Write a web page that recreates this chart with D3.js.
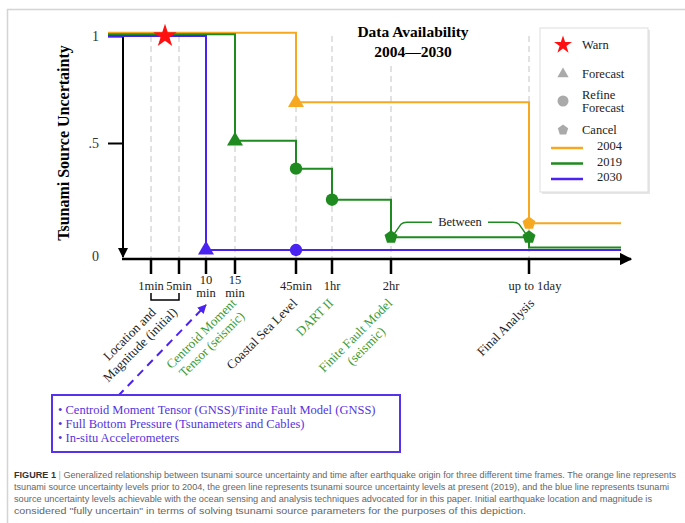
<!DOCTYPE html>
<html>
<head>
<meta charset="utf-8">
<script src="https://cdn.jsdelivr.net/npm/d3@7"></script>
<style>
  body { margin: 0; background: #fff; }
  svg { display: block; }
</style>
</head>
<body>
<svg></svg>
<script>
// time (minutes after origin) of each x tick and its label
const tickTimes = [1, 5, 10, 15, 45, 60, 120, 1440]
const tickLabels = [["1min"], ["5min"], ["10", "min"], ["15", "min"], ["45min"], ["1hr"], ["2hr"], ["up to 1day"]]

// step lines: uncertainty level from time t onward
const orange2004 = [{t: 0, v: 1.015}, {t: 45, v: 0.69}, {t: 1440, v: 0.125}]
const green2019 = [{t: 0, v: 1.008}, {t: 15, v: 0.51}, {t: 45, v: 0.38}, {t: 60, v: 0.235}, {t: 120, v: 0.06}, {t: 1440, v: 0.012}]
const blue2030 = [{t: 0, v: 1.0}, {t: 10, v: 0}]
const endTime = 2880

// markers
const warnPts = [{t: 3, v: 1}]
const forecastPts = [{t: 45, v: 0.69, s: "2004"}, {t: 15, v: 0.51, s: "2019"}, {t: 10, v: 0, s: "2030"}]
const refinePts = [{t: 45, v: 0.38, s: "2019"}, {t: 60, v: 0.235, s: "2019"}, {t: 45, v: 0, s: "2030"}]
const cancelPts = [{t: 1440, v: 0.125, s: "2004"}, {t: 120, v: 0.06, s: "2019"}, {t: 1440, v: 0.06, s: "2019"}]

// data sources under the axis
const sourceLabels = [
  {t: 5, lines: ["Location and", "Magnitude (initial)"], c: "black"},
  {t: 15, lines: ["Centroid Moment", "Tensor (seismic)"], c: "green"},
  {t: 45, lines: ["Coastal Sea Level"], c: "black"},
  {t: 60, lines: ["DART II"], c: "green"},
  {t: 120, lines: ["Finite Fault Model", "(seismic)"], c: "green"},
  {t: 1440, lines: ["Final Analysis"], c: "black"}
]
const futureSources = [
  "• Centroid Moment Tensor (GNSS)/Finite Fault Model (GNSS)",
  "• Full Bottom Pressure (Tsunameters and Cables)",
  "• In-situ Accelerometers"
]
const legendYears = ["2004", "2019", "2030"]
const captionLines = [
  "Generalized relationship between tsunami source uncertainty and time after earthquake origin for three different time frames. The orange line represents",
  "tsunami source uncertainty levels prior to 2004, the green line represents tsunami source uncertainty levels at present (2019), and the blue line represents tsunami",
  "source uncertainty levels achievable with the ocean sensing and analysis techniques advocated for in this paper. Initial earthquake location and magnitude is",
  "considered \"fully uncertain\" in terms of solving tsunami source parameters for the purposes of this depiction."
]

const colors = {"2004": "#f6a821", "2019": "#1f8a1f", "2030": "#4a22f2", green: "#3a9a30", black: "#222"}
const serif = "'Liberation Serif', 'Times New Roman', serif"

const width = 685, height = 523

const svg = d3.select("svg")
  .attr("width", width)
  .attr("height", height)

// frame
svg.append("path")
  .attr("d", `M7.5,${height} V9.5 H${width}`)
  .attr("fill", "none")
  .attr("stroke", "#d4d4d4")
  .attr("stroke-width", 1.5)

const x = d3.scaleLinear()
  .domain([0, 1, 5, 10, 15, 45, 60, 120, 1440, endTime])
  .range([123, 151, 179, 206, 235, 296, 332, 391, 529, 621])

const y = d3.scaleLinear()
  .domain([0, 1])
  .range([250, 36])

const axisY = 259, tickLen = 15

// dashed guides
svg.append("g")
  .selectAll("line")
  .data(tickTimes)
  .join("line")
    .attr("x1", d => x(d)).attr("x2", d => x(d))
    .attr("y1", y(1)).attr("y2", axisY)
    .attr("stroke", "#c4c4c4")
    .attr("stroke-dasharray", "6,4")

// title (white behind it hides the guide)
const title = svg.append("g").attr("font-family", serif).attr("font-weight", "bold").attr("font-size", 15.5).attr("text-anchor", "middle")
title.append("rect").attr("x", 352).attr("y", 18).attr("width", 124).attr("height", 44).attr("fill", "#fff")
title.append("text").attr("x", 413).attr("y", 37).text("Data Availability")
title.append("text").attr("x", 413).attr("y", 57).text("2004\u20142030")

// axes
svg.append("defs").call(defs => {
  defs.append("marker").attr("id", "arr").attr("viewBox", "0 0 10 10").attr("refX", 9).attr("refY", 5)
    .attr("markerWidth", 5).attr("markerHeight", 5).attr("orient", "auto")
    .append("path").attr("d", "M0,0 L10,5 L0,10 z").attr("fill", "black")
  defs.append("marker").attr("id", "barr").attr("viewBox", "0 0 10 10").attr("refX", 9).attr("refY", 5)
    .attr("markerWidth", 4.5).attr("markerHeight", 4.5).attr("orient", "auto")
    .append("path").attr("d", "M0,0 L10,5 L0,10 z").attr("fill", colors["2030"])
})

svg.append("line")
  .attr("x1", x(0)).attr("x2", x(0)).attr("y1", y(1)).attr("y2", axisY - 2)
  .attr("stroke", "black").attr("stroke-width", 2)
  .attr("marker-end", "url(#arr)")

svg.append("line")
  .attr("x1", x(0) - 1).attr("x2", x(endTime) + 10).attr("y1", axisY).attr("y2", axisY)
  .attr("stroke", "black").attr("stroke-width", 2.5)
  .attr("marker-end", "url(#arr)")

const yAxis = d3.axisLeft(y).tickValues([0, 0.5, 1]).tickSize(tickLen).tickFormat(d => d === 0.5 ? ".5" : d3.format("d")(d))
svg.append("g")
  .attr("transform", `translate(${x(0)},0)`)
  .call(yAxis)
  .call(g => g.select(".domain").remove())
  .call(g => g.selectAll(".tick line").attr("stroke-width", 2).attr("stroke", d => d === 0 ? "none" : "black"))
  .call(g => g.selectAll(".tick text").attr("font-family", serif).attr("font-size", 14).attr("fill", "#333")
    .attr("x", -24).attr("dy", d => d === 0 ? "0.75em" : "0.32em"))

svg.append("text")
  .attr("transform", `translate(69,${y(0.5)}) rotate(-90)`)
  .attr("text-anchor", "middle")
  .attr("font-family", serif).attr("font-weight", "bold").attr("font-size", 16)
  .text("Tsunami Source Uncertainty")

// x ticks
const xt = svg.append("g").selectAll("g").data(tickTimes).join("g")
  .attr("transform", d => `translate(${x(d)},${axisY})`)
xt.append("line").attr("y1", 0).attr("y2", tickLen).attr("stroke", "black").attr("stroke-width", 2.5)
xt.append("text")
  .attr("text-anchor", "middle")
  .attr("font-family", serif).attr("font-size", 12.5).attr("fill", "#222")
  .attr("dx", (d, i) => i === 7 ? 6 : 0)
  .selectAll("tspan")
  .data((d, i) => tickLabels[i])
  .join("tspan")
    .attr("x", 0)
    .attr("y", (s, j, n) => n.length > 1 ? 25 + j * 13 : 31)
    .text(s => s)

// bracket under 1min - 5min
const bracketBottom = axisY + 41
svg.append("path")
  .attr("d", `M${x(1)},${axisY + 34} V${bracketBottom} H${x(5)} V${axisY + 34}`)
  .attr("fill", "none").attr("stroke", "black").attr("stroke-width", 1.5)

// step lines
const line = d3.line()
  .x(d => d.t === 0 ? x(0) - tickLen : x(d.t))
  .y(d => y(d.v))
  .curve(d3.curveStepAfter)

const series = [["2004", orange2004], ["2019", green2019], ["2030", blue2030]]
svg.append("g")
  .selectAll("path")
  .data(series)
  .join("path")
    .attr("d", ([k, pts]) => line([...pts, {t: endTime, v: pts[pts.length - 1].v}]))
    .attr("fill", "none")
    .attr("stroke", ([k]) => colors[k])
    .attr("stroke-width", 2)

// "Between" bracket
const bx0 = x(120), bx1 = x(1440), by0 = y(0.06), by1 = y(0.06) - 15
svg.append("path")
  .attr("d", `M${bx0 + 3},${by0 - 3} L${bx0 + 10},${by1 + 2} Q${bx0 + 12},${by1} ${bx0 + 16},${by1} H${(bx0 + bx1) / 2 - 28}
              M${(bx0 + bx1) / 2 + 28},${by1} H${bx1 - 16} Q${bx1 - 12},${by1} ${bx1 - 10},${by1 + 2} L${bx1 - 3},${by0 - 3}`)
  .attr("fill", "none").attr("stroke", colors["2019"]).attr("stroke-width", 1.5)
svg.append("text")
  .attr("x", (bx0 + bx1) / 2).attr("y", by1 + 4)
  .attr("text-anchor", "middle").attr("font-family", serif).attr("font-size", 12.5).attr("fill", "#222")
  .text("Between")

// markers
const pentagon = {
  draw(ctx, size) {
    const r = Math.sqrt(size / 2.378)
    for (let i = 0; i < 5; i++) {
      const a = -Math.PI / 2 + i * 2 * Math.PI / 5
      i ? ctx.lineTo(r * Math.cos(a), r * Math.sin(a)) : ctx.moveTo(r * Math.cos(a), r * Math.sin(a))
    }
    ctx.closePath()
  }
}
const markerSets = [
  [forecastPts, d3.symbolTriangle, 110],
  [refinePts, d3.symbolCircle, 120],
  [cancelPts, pentagon, 110]
]
markerSets.forEach(([pts, type, size]) => {
  svg.append("g").selectAll("path").data(pts).join("path")
    .attr("transform", d => `translate(${x(d.t)},${y(d.v)})`)
    .attr("d", d3.symbol().type(type).size(size))
    .attr("fill", d => colors[d.s])
})
svg.append("g").selectAll("path").data(warnPts).join("path")
  .attr("transform", d => `translate(${x(d.t)},${y(d.v)})`)
  .attr("d", d3.symbol().type(d3.symbolStar).size(170))
  .attr("fill", "#ff1010")

// legend
const lg = svg.append("g").attr("transform", "translate(540,28)")
  .attr("font-family", serif).attr("font-size", 12.5).attr("fill", "#222")
lg.append("rect").attr("x", 2).attr("y", 2).attr("width", 108).attr("height", 164).attr("fill", "#e6e6e6")
lg.append("rect").attr("width", 108).attr("height", 164).attr("fill", "#fff").attr("stroke", "#ddd")
const lgSym = [
  [d3.symbolStar, 100, "#ff1010", ["Warn"], 17],
  [d3.symbolTriangle, 55, "#aaa", ["Forecast"], 46],
  [d3.symbolCircle, 95, "#aaa", ["Refine", "Forecast"], 73],
  [pentagon, 70, "#aaa", ["Cancel"], 102]
]
lgSym.forEach(([type, size, fill, lines, yy]) => {
  lg.append("path").attr("transform", `translate(23,${yy})`).attr("d", d3.symbol().type(type).size(size)).attr("fill", fill)
  lg.append("text").attr("x", 42).attr("y", yy + 4 - (lines.length - 1) * 6.5)
    .selectAll("tspan").data(lines).join("tspan").attr("x", 42).attr("dy", (s, j) => j ? 13 : 0).text(s => s)
})
legendYears.forEach((k, i) => {
  const yy = 120 + i * 15.5
  lg.append("line").attr("x1", 11).attr("x2", 43).attr("y1", yy).attr("y2", yy).attr("stroke", colors[k]).attr("stroke-width", 2.5)
  lg.append("text").attr("x", 57).attr("y", yy + 2).text(k)
})

// rotated data-source labels: the longest line ends just below its tick
sourceLabels.forEach(d => {
  const underBracket = d.t === 5
  const ox = underBracket ? x(d.t) - 1 : x(d.t) + (d.t === 1440 ? 6 : 2)
  const oy = underBracket ? bracketBottom + 13 : axisY + 45
  const g = svg.append("g")
    .attr("transform", `translate(${ox},${oy}) rotate(-45)`)
    .attr("font-family", serif).attr("font-size", 13)
    .attr("fill", d.c === "green" ? colors.green : colors.black)
  const texts = g.selectAll("text").data(d.lines).join("text").attr("text-anchor", "middle").text(s => s)
  const lens = texts.nodes().map(n => n.getComputedTextLength())
  const k = lens.indexOf(d3.max(lens))
  texts.attr("x", -lens[k] / 2).attr("y", (s, j) => (j - k) * 15)
})

// dashed arrow to the future sources box
svg.append("line")
  .attr("x1", 118).attr("y1", 396).attr("x2", x(10)).attr("y2", axisY + 46)
  .attr("stroke", colors["2030"]).attr("stroke-width", 2).attr("stroke-dasharray", "8,6")
  .attr("marker-end", "url(#barr)")

const box = svg.append("g").attr("transform", "translate(52,395)")
box.append("rect").attr("width", 348).attr("height", 57).attr("fill", "#fff")
  .attr("stroke", "#5533ee").attr("stroke-width", 2)
box.selectAll("text").data(futureSources).join("text")
  .attr("x", 6).attr("y", (d, i) => 19 + i * 14)
  .attr("font-family", serif).attr("font-size", 12.5).attr("fill", "#5533dd")
  .text(d => d)

// caption
const cap = svg.append("g").attr("font-family", "'Liberation Sans', Arial, sans-serif").attr("font-size", 8.6).attr("fill", "#666")
const capLens = [662, 655, 638, 512]
captionLines.forEach((s, i) => {
  const t = cap.append("text").attr("x", 14).attr("y", 478 + i * 12)
    .attr("textLength", capLens[i]).attr("lengthAdjust", "spacingAndGlyphs")
  if (i === 0) {
    t.append("tspan").attr("font-weight", "bold").attr("fill", "#333").text("FIGURE 1 ")
    t.append("tspan").attr("fill", "#aaa").text("| ")
  }
  t.append("tspan").text(s)
})
</script>
</body>
</html>
